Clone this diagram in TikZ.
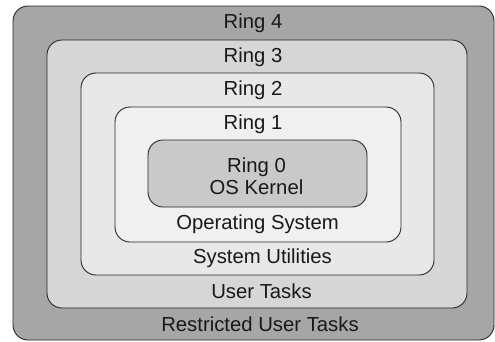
\documentclass[tikz,border=0pt]{standalone}
\usepackage{fontspec}
\setmainfont{Liberation Sans}
\begin{document}
\begin{tikzpicture}[x=1pt,y=-1pt,
  ring/.style={draw=black!85, line width=0.9pt, rounded corners=15pt},
  lbl/.style={font=\fontsize{20.3}{22}\selectfont, text=black!90, inner sep=0pt, align=center}]
\definecolor{ringfour}{HTML}{A6A6A6}
\definecolor{ringthree}{HTML}{D6D6D6}
\definecolor{ringtwo}{HTML}{E8E8E8}
\definecolor{ringone}{HTML}{F0F0F0}
\definecolor{ringzero}{HTML}{C9C9C9}
\useasboundingbox (0,0) rectangle (495,341);
% nested privilege rings, outermost first
\draw[ring, fill=ringfour]  (13,6)   rectangle (494,340);
\draw[ring, fill=ringthree] (47,40)  rectangle (467,308);
\draw[ring, fill=ringtwo]   (81,73)  rectangle (434,275);
\draw[ring, fill=ringone]   (115,107) rectangle (401,242);
\draw[ring, fill=ringzero]  (148,140) rectangle (367,207);
% ring titles (top band of each ring)
\node[lbl] (r4) at (253,23)  {Ring 4};
\node[lbl] (r3) at (253,57)  {Ring 3};
\node[lbl] (r2) at (253,90)  {Ring 2};
\node[lbl] (r1) at (253,124) {Ring 1};
\node[lbl] (r0) at (256.5,176.5) {Ring 0\\OS Kernel};
% ring contents (bottom band of each ring)
\node[lbl] (os)   at (257.5,224.5) {Operating System};
\node[lbl] (util) at (262.5,258)   {System Utilities};
\node[lbl] (user) at (261.5,291.5) {User Tasks};
\node[lbl] (rest) at (260,324)     {Restricted User Tasks};
\end{tikzpicture}
\end{document}
